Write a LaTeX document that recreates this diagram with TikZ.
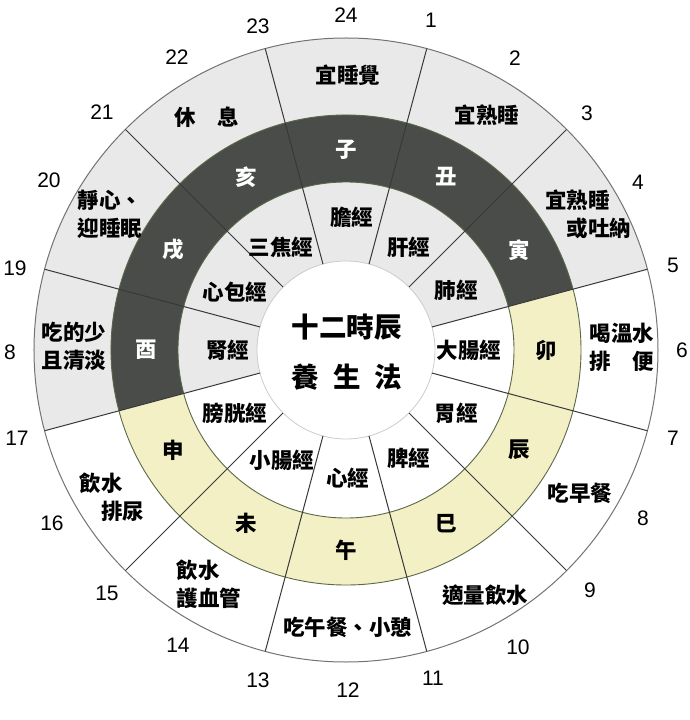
\documentclass[tikz,border=0pt]{standalone}
\usepackage{fontspec}
\newfontfamily\cjk{Noto Sans CJK TC}
\newfontfamily\numfont{Liberation Sans}
\usepackage{xcolor}
\definecolor{lightgrey}{RGB}{233,233,233}
\definecolor{darkring}{RGB}{74,76,74}
\definecolor{paleyellow}{RGB}{243,240,198}
\definecolor{ringline}{RGB}{90,104,72}

\begin{document}
\begin{tikzpicture}[x=1pt,y=1pt,
    hournum/.style={font=\numfont\fontsize{21}{21}\selectfont,inner sep=0pt},
    advice/.style={font=\cjk\bfseries\fontsize{21.5}{28}\selectfont,inner sep=0pt,align=center},
    adviceleft/.style={advice,align=left},
    meridian/.style={font=\cjk\bfseries\fontsize{21.5}{28}\selectfont,inner sep=0pt},
    zhi/.style={font=\cjk\bfseries\fontsize{21.5}{28}\selectfont,inner sep=0pt},
    zhidark/.style={zhi,text=white},
    centre/.style={font=\cjk\bfseries\fontsize{27.5}{30}\selectfont,inner sep=0pt},
    divider/.style={black!78,line width=1pt}]
    \fill[white] (-346,-370) rectangle (344,350);
    \useasboundingbox (-346,-370) rectangle (344,350);
    % grey half, dark half and yellow half
    \fill[lightgrey] (15:312) arc[start angle=15,end angle=195,radius=312]--(195:89) arc[start angle=195,end angle=15,radius=89]--cycle;
    \fill[darkring] (15:235) arc[start angle=15,end angle=195,radius=235]--(195:168) arc[start angle=195,end angle=15,radius=168]--cycle;
    \fill[paleyellow] (195:235) arc[start angle=195,end angle=375,radius=235]--(15:168) arc[start angle=375,end angle=195,radius=168]--cycle;
    \draw[ringline,line width=0.9pt] (0,0) circle[radius=235];
    \draw[ringline,line width=0.9pt] (0,0) circle[radius=168];
    \draw[black!55,line width=1pt] (0,0) circle[radius=312];
    \draw[black!20,line width=0.8pt] (0,0) circle[radius=89];
    \draw[divider] (75:89)--(75:312);
    \draw[divider] (45:89)--(45:312);
    \draw[divider] (15:89)--(15:312);
    \draw[divider] (-15:89)--(-15:312);
    \draw[divider] (-45:89)--(-45:312);
    \draw[divider] (-75:89)--(-75:312);
    \draw[divider] (-105:89)--(-105:312);
    \draw[divider] (-135:89)--(-135:312);
    \draw[divider] (-165:89)--(-165:312);
    \draw[divider] (165:89)--(165:312);
    \draw[divider] (135:89)--(135:312);
    \draw[divider] (105:89)--(105:312);
    % hours round the rim
    \node[hournum] (h24) at (0,335) {24};
    \node[hournum] (h1) at (85,330) {1};
    \node[hournum] (h2) at (169,292) {2};
    \node[hournum] (h3) at (241,237) {3};
    \node[hournum] (h4) at (292,168) {4};
    \node[hournum] (h5) at (327,85) {5};
    \node[hournum] (h6) at (336,0) {6};
    \node[hournum] (h7) at (327,-88) {7};
    \node[hournum] (h8) at (297,-168) {8};
    \node[hournum] (h9) at (244,-240) {9};
    \node[hournum] (h10) at (172,-297) {10};
    \node[hournum] (h11) at (87,-328) {11};
    \node[hournum] (h12) at (2,-340) {12};
    \node[hournum] (h13) at (-88,-330) {13};
    \node[hournum] (h14) at (-168,-295) {14};
    \node[hournum] (h15) at (-239,-243) {15};
    \node[hournum] (h16) at (-294,-173) {16};
    \node[hournum] (h17) at (-329,-88) {17};
    \node[hournum] (h18) at (-336,-2) {8};
    \node[hournum] (h19) at (-331,82) {19};
    \node[hournum] (h20) at (-297,170) {20};
    \node[hournum] (h21) at (-244,238) {21};
    \node[hournum] (h22) at (-169,293) {22};
    \node[hournum] (h23) at (-88,324) {23};
    % outer ring
    \node[advice] (zi-do) at (2,275) {宜睡覺};
    \node[advice] (chou-do) at (141,235) {宜熟睡};
    \node[adviceleft] (yin-do) at (242,136) {宜熟睡\\\hspace*{1em}或吐納};
    \node[adviceleft] (mao-do) at (276,3) {喝溫水\\排\hspace{1em}便};
    \node[advice] (chen-do) at (234,-143) {吃早餐};
    \node[advice] (si-do) at (139,-245) {適量飲水};
    \node[advice] (wu-do) at (2,-277) {吃午餐、小憩};
    \node[adviceleft] (wei-do) at (-137,-234) {飲水\\護血管};
    \node[adviceleft] (shen-do) at (-234,-147) {飲水\\\hspace*{1em}排尿};
    \node[adviceleft] (you-do) at (-272,4) {吃的少\\且清淡};
    \node[adviceleft] (xu-do) at (-236,136) {靜心、\\迎睡眠};
    \node[advice] (hai-do) at (-139,233) {休\hspace{1em}息};
    % earthly branches
    \node[zhidark] (zi) at (90:200) {子};
    \node[zhidark] (chou) at (60:200) {丑};
    \node[zhidark] (yin) at (30:200) {寅};
    \node[zhi] (mao) at (0:200) {卯};
    \node[zhi] (chen) at (-30:200) {辰};
    \node[zhi] (si) at (-60:200) {巳};
    \node[zhi] (wu) at (-90:200) {午};
    \node[zhi] (wei) at (-120:200) {未};
    \node[zhi] (shen) at (-150:200) {申};
    \node[zhidark] (you) at (180:200) {酉};
    \node[zhidark] (xu) at (150:200) {戌};
    \node[zhidark] (hai) at (120:200) {亥};
    % meridians
    \node[meridian] (dan) at (6,133) {膽經};
    \node[meridian] (gan) at (63,103) {肝經};
    \node[meridian] (fei) at (110,60) {肺經};
    \node[meridian] (dachang) at (123,0) {大腸經};
    \node[meridian] (wei-jing) at (110,-63) {胃經};
    \node[meridian] (pi) at (63,-108) {脾經};
    \node[meridian] (xin) at (2,-128) {心經};
    \node[meridian] (xiaochang) at (-64,-110) {小腸經};
    \node[meridian] (pangguang) at (-111,-63) {膀胱經};
    \node[meridian] (shen-jing) at (-118,0) {腎經};
    \node[meridian] (xinbao) at (-111,58) {心包經};
    \node[meridian] (sanjiao) at (-65,103) {三焦經};
    % centre
    \node[centre] (title) at (1,23) {十二時辰};
    \node[centre] (subtitle) at (1,-27) {養\hspace{0.5em}生\hspace{0.5em}法};
\end{tikzpicture}
\end{document}
